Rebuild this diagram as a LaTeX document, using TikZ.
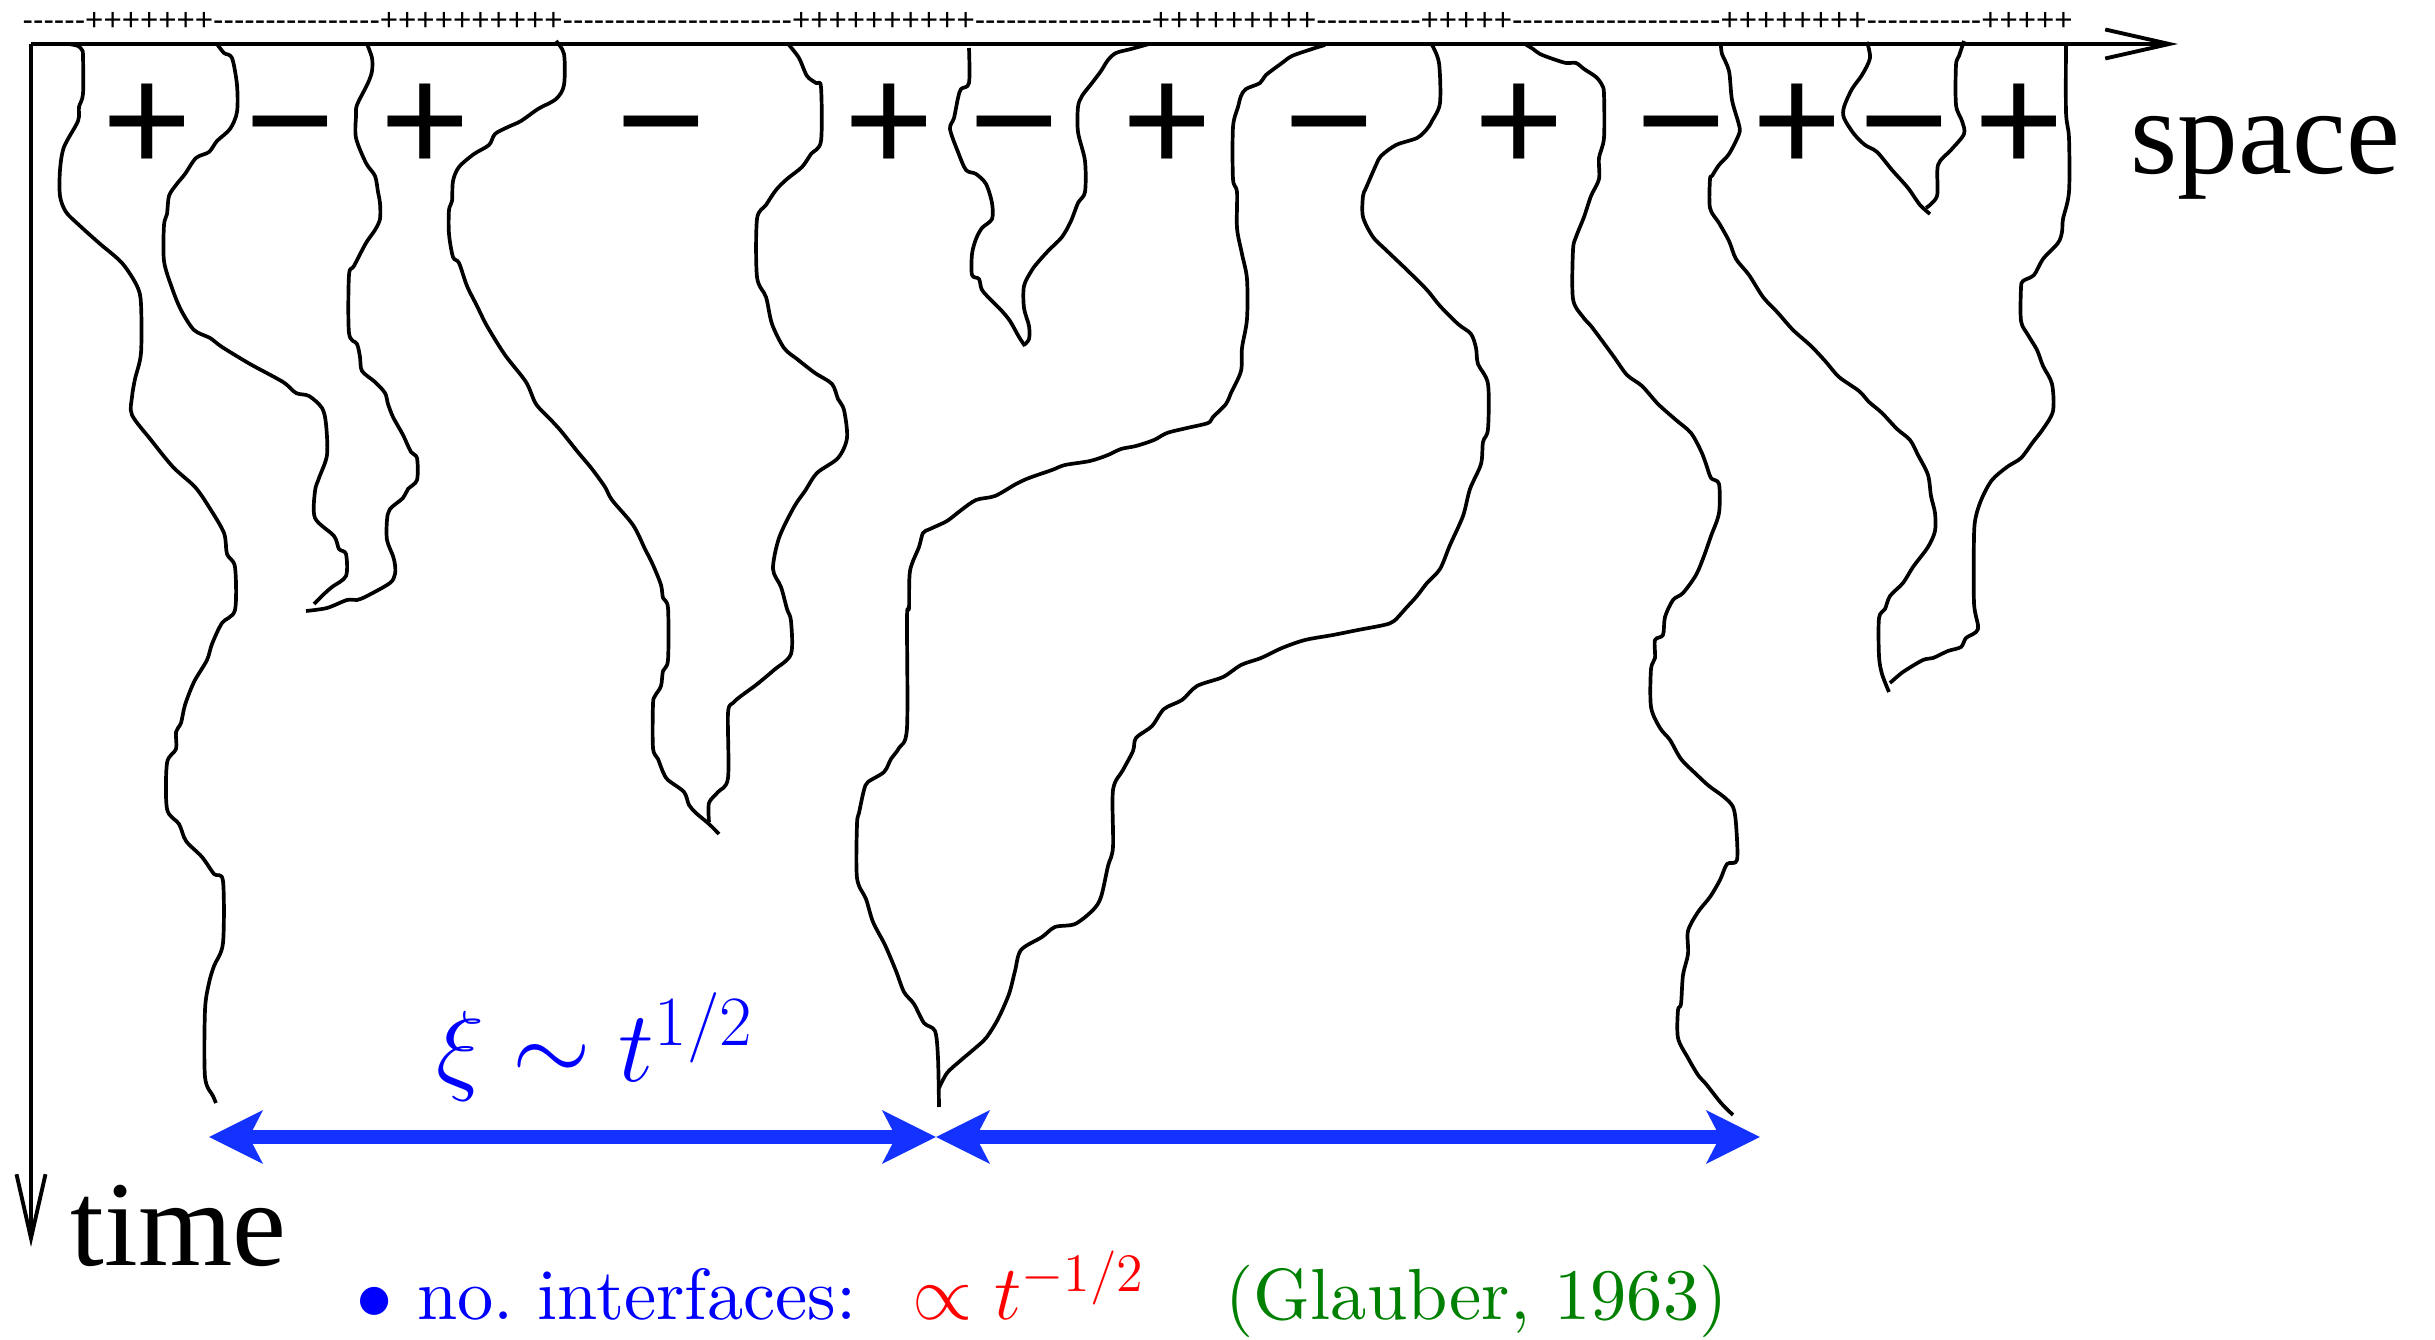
\RequirePackage{fix-cm}
\documentclass[tikz,border=0pt]{standalone}
\usepackage{fontspec}
\newfontfamily\labelfont{Liberation Serif}
\newfontfamily\signfont{Liberation Sans}
\newfontfamily\stringfont{Liberation Sans}[Ligatures=TeXOff]
\newfontfamily\cmtext{lmroman10-regular}[Extension=.otf]
\usepackage{tikz}
\usetikzlibrary{arrows.meta}
\definecolor{arrowblue}{RGB}{20,50,255}
\definecolor{citegreen}{RGB}{0,128,0}
\newcommand{\spinrun}[2]{\foreach\k in {1,...,#1}{#2}}
\tikzset{
  wall/.style={line width=1.05pt, line join=round},
  axisline/.style={line width=1.1pt, -{Straight Barb[length=0.64cm,width=0.29cm]}},
  sizearrow/.style={arrowblue, line width=3.8pt,
    {Stealth[length=0.53cm,width=0.52cm,inset=0.13cm]}-{Stealth[length=0.53cm,width=0.52cm,inset=0.13cm]}},
  signlabel/.style={font={\signfont\fontsize{43.6}{44}\selectfont}, anchor=base, inner sep=0pt},
  axislabel/.style={font={\labelfont\fontsize{34.5}{40}\selectfont}, anchor=base west, inner sep=0pt},
  notelabel/.style={font={\cmtext\fontsize{20.6}{24}\selectfont}, anchor=base west, inner sep=0pt},
}

\begin{document}
\begin{tikzpicture}[x=0.01cm, y=-0.01cm]
\useasboundingbox (0,0) rectangle (2435,1340);
% axes
\coordinate (o) at (31,44);
\coordinate (xend) at (2178,44);
\coordinate (tend) at (31,1247);
\draw[axisline] (o) -- (xend);
\draw[axisline] (o) -- (tend);
\node[axislabel] (spacelabel) at (2130,174) {space};
\node[axislabel] (timelabel) at (70,1266) {time};
% initial spins
\node[font={\stringfont\fontsize{8.9}{10}\selectfont}, anchor=base west, inner sep=0pt] (initstate) at (22,31)
  {\spinrun{6}{-}\spinrun{7}{+}\spinrun{16}{-}\spinrun{10}{+}\spinrun{22}{-}\spinrun{10}{+}\spinrun{17}{-}%
   \spinrun{9}{+}\spinrun{10}{-}\spinrun{5}{+}\spinrun{20}{-}\spinrun{8}{+}\spinrun{11}{-}\spinrun{5}{+}};
% domain signs
\foreach \x/\s [count=\i] in {147/+,290/−,425/+,661/−,889/+,1014/−,1167/+,1329/−,1519/+,1681/−,1797/+,1904/−,2019/+}
  \node[signlabel] (s\i) at (\x,173) {\s};
% interfaces (left to right)
\draw[wall] plot[smooth, tension=0.5] coordinates {(69,44) (78,46) (82,50) (83,56) (83,94) (79,107) (78,121) (64,147) (60,170) (60,196) (66,212) (79,225) (99,243) (122,263) (137,286) (141,304) (141,353) (135,379) (132,397) (132,415) (151,440) (173,467) (195,487) (209,507) (224,533) (227,554) (235,567) (235,610) (222,623) (212,644) (207,660) (194,682) (185,705) (181,723) (176,732) (176,749) (167,763) (167,809) (179,824) (186,841) (202,857) (214,874) (223,881) (223,943) (214,966) (209,983) (205,1010) (205,1077) (213,1096) (216,1103)};
\draw[wall] plot[smooth, tension=0.5] coordinates {(217,44) (224,53) (232,58) (237,85) (237,112) (230,129) (217,141) (209,152) (196,158) (185,174) (176,185) (169,196) (167,214) (164,225) (164,261) (172,288) (181,310) (194,330) (210,338) (222,347) (250,364) (283,382) (296,393) (309,396) (322,408) (326,424) (327,455) (319,478) (315,491) (315,518) (334,536) (339,549) (346,554) (346,576) (332,587) (324,594) (314,604)};
\draw[wall] plot[smooth, tension=0.5] coordinates {(367,44) (372,58) (372,71) (368,83) (357,105) (356,116) (356,138) (366,163) (375,176) (378,192) (380,203) (380,219) (375,230) (366,243) (354,266) (349,275) (349,333) (357,344) (360,357) (362,371) (375,382) (385,393) (388,404) (393,417) (403,435) (411,452) (417,458) (417,480) (408,489) (403,498) (390,509) (387,520) (387,540) (393,556) (395,565) (395,574) (390,583) (367,596) (357,600) (347,600) (327,608) (306,611)};
\draw[wall] plot[smooth, tension=0.5] coordinates {(556,41) (564,54) (564,85) (556,99) (538,109) (521,121) (508,127) (495,134) (489,145) (474,154) (459,167) (453,181) (452,201) (449,210) (449,234) (453,257) (459,263) (467,286) (477,306) (487,326) (505,355) (526,382) (536,404) (551,420) (561,431) (577,451) (592,469) (605,487) (612,500) (633,525) (645,549) (653,565) (661,585) (663,598) (668,608) (668,660) (663,671) (661,686) (655,696) (653,704) (653,748) (658,759) (663,772) (668,780) (684,792) (689,805) (696,813) (709,824) (719,834)};
\draw[wall] plot[smooth, tension=0.5] coordinates {(789,45) (799,58) (807,76) (816,83) (821,87) (821,141) (811,154) (802,167) (787,179) (776,190) (766,205) (757,219) (757,277) (766,297) (772,324) (784,348) (797,359) (815,373) (832,384) (838,399) (844,410) (847,438) (838,458) (817,473) (805,491) (794,507) (779,538) (773,569) (781,587) (787,609) (791,621) (791,654) (774,670) (756,685) (741,696) (733,703) (728,713) (728,778) (718,792) (709,803) (709,822)};
\draw[wall] plot[smooth, tension=0.5] coordinates {(969,48) (969,83) (961,89) (958,98) (954,118) (950,129) (958,152) (966,170) (976,174) (986,184) (992,203) (992,219) (982,228) (976,239) (972,254) (972,275) (979,279) (982,290) (992,301) (1001,310) (1010,321) (1019,337) (1025,346)};
\draw[wall] plot[smooth, tension=0.5] coordinates {(1149,44) (1131,49) (1116,53) (1108,60) (1101,71) (1092,83) (1082,96) (1078,107) (1078,132) (1085,161) (1085,192) (1078,203) (1071,221) (1062,237) (1049,250) (1039,261) (1032,270) (1024,286) (1024,308) (1029,326) (1029,339) (1024,345)};
\draw[wall] plot[smooth, tension=0.5] coordinates {(1325,45) (1312,49) (1292,56) (1282,63) (1266,75) (1260,83) (1246,89) (1241,96) (1238,107) (1233,127) (1233,179) (1237,192) (1237,228) (1242,254) (1247,279) (1247,319) (1242,348) (1241,371) (1231,393) (1226,404) (1213,417) (1208,423) (1187,428) (1167,433) (1154,440) (1136,446) (1121,449) (1108,455) (1090,461) (1065,465) (1052,470) (1029,478) (1016,484) (995,496) (976,500) (960,511) (947,521) (930,529) (923,533) (919,547) (910,571) (909,608) (907,617) (907,728) (899,748) (891,759) (884,772) (868,782) (864,790) (859,813) (857,824) (857,878) (866,899) (873,922) (885,945) (896,971) (904,992) (914,1004) (924,1023) (935,1031) (938,1058) (939,1107)};
\draw[wall] plot[smooth, tension=0.5] coordinates {(1432,45) (1439,63) (1440,103) (1432,121) (1427,129) (1417,138) (1396,145) (1381,156) (1376,165) (1366,188) (1363,196) (1363,217) (1373,237) (1386,250) (1407,270) (1427,290) (1440,306) (1458,324) (1471,334) (1476,348) (1478,364) (1488,384) (1488,429) (1483,442) (1481,464) (1470,489) (1463,516) (1450,545) (1440,569) (1427,583) (1417,596) (1407,607) (1394,621) (1384,625) (1358,630) (1333,635) (1305,640) (1282,648) (1261,658) (1241,665) (1223,677) (1197,686) (1182,700) (1164,709) (1152,726) (1136,738) (1133,751) (1123,770) (1113,790) (1113,847) (1108,866) (1101,897) (1093,910) (1075,924) (1055,927) (1042,937) (1021,950) (1015,971) (1009,994) (998,1019) (986,1038) (973,1050) (960,1061) (947,1073) (939,1088)};
\draw[wall] plot[smooth, tension=0.5] coordinates {(1525,44) (1533,49) (1540,54) (1553,59) (1566,63) (1576,63) (1584,69) (1596,77) (1602,85) (1604,94) (1604,138) (1599,158) (1599,179) (1591,196) (1584,217) (1576,237) (1573,250) (1573,299) (1583,317) (1591,326) (1603,342) (1614,357) (1627,375) (1642,386) (1658,404) (1676,420) (1691,433) (1701,451) (1706,464) (1711,478) (1719,484) (1719,513) (1711,536) (1704,556) (1696,575) (1683,593) (1673,600) (1665,617) (1663,635) (1655,640) (1655,658) (1651,669) (1651,707) (1660,728) (1670,740) (1681,759) (1696,774) (1709,786) (1724,797) (1733,807) (1736,824) (1737,860) (1727,864) (1720,880) (1710,897) (1698,912) (1688,931) (1688,954) (1683,975) (1681,1004) (1678,1010) (1678,1038) (1688,1058) (1698,1075) (1706,1084) (1721,1103) (1733,1115)};
\draw[wall] plot[smooth, tension=0.5] coordinates {(1721,45) (1722,54) (1729,71) (1732,100) (1739,125) (1739,134) (1729,154) (1719,165) (1712,176) (1710,179) (1710,208) (1719,223) (1729,241) (1736,259) (1749,275) (1763,297) (1778,313) (1793,330) (1811,346) (1826,362) (1839,377) (1859,391) (1869,402) (1882,413) (1897,429) (1910,440) (1918,455) (1928,475) (1931,496) (1935,513) (1935,531) (1928,547) (1913,567) (1903,583) (1890,596) (1885,609) (1879,618) (1879,656) (1882,674) (1889,692)};
\draw[wall] plot[smooth, tension=0.5] coordinates {(1867,42) (1870,58) (1862,75) (1852,89) (1844,107) (1844,118) (1854,134) (1865,145) (1877,152) (1892,170) (1908,188) (1920,205) (1930,214)};
\draw[wall] plot[smooth, tension=0.5] coordinates {(1964,41) (1959,56) (1956,65) (1956,105) (1962,121) (1964,134) (1951,150) (1938,165) (1937,196) (1926,208)};
\draw[wall] plot[smooth, tension=0.5] coordinates {(2066,45) (2066,112) (2069,138) (2069,192) (2063,219) (2062,232) (2058,243) (2043,259) (2034,275) (2023,281) (2021,288) (2021,321) (2028,335) (2037,350) (2043,366) (2052,384) (2053,411) (2043,429) (2033,442) (2021,458) (2007,467) (1992,480) (1982,498) (1976,516) (1974,536) (1974,603) (1978,629) (1966,638) (1961,647) (1948,651) (1933,658) (1923,660) (1903,672) (1890,683)};
% correlation length
\coordinate (xiL) at (209,1137);
\coordinate (xiM) at (936,1137);
\coordinate (xiR) at (1760,1137);
\draw[sizearrow] (xiL) -- (xiM);
\draw[sizearrow] (xiM) -- (xiR);
\node[blue, font=\fontsize{28.7}{32}\selectfont, anchor=base, inner sep=0pt] (xilabel) at (595,1082) {$\xi\sim t^{1/2}$};
% density of interfaces
\node[notelabel, blue] (countlabel) at (356,1320) {$\bullet$ no.\ interfaces:};
\node[notelabel, red] (ratelabel) at (912,1320) {\fontsize{22}{26}\selectfont$\propto t^{-1/2}$};
\node[notelabel, citegreen] (citelabel) at (1225,1320) {(Glauber, 1963)};
\end{tikzpicture}
\end{document}
